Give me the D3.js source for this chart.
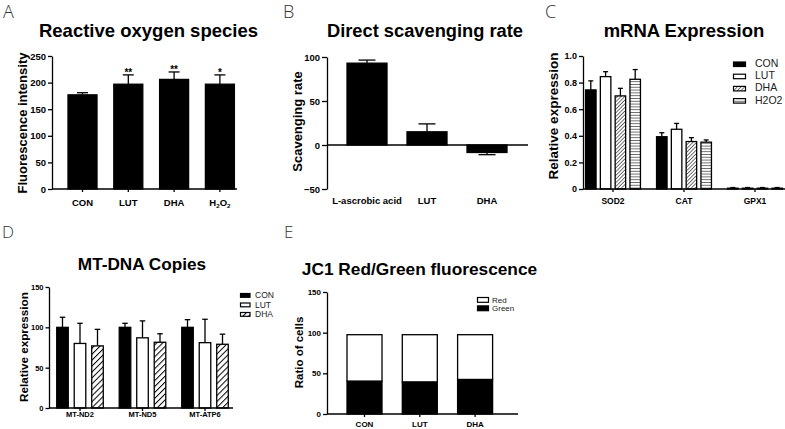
<!DOCTYPE html>
<html><head><meta charset="utf-8">
<script src="https://cdn.jsdelivr.net/npm/d3@7"></script>
<style>body{margin:0;background:#fff} svg{display:block;font-family:"Liberation Sans",Arial,Helvetica,sans-serif}</style>
</head><body><svg id="chart" width="785" height="429"></svg>
<script>
// ---------- DATA ----------
// A: Reactive oxygen species
const rosCategories = ["CON", "LUT", "DHA", "H2O2"];
const rosValues = [177, 197, 206, 197];
const rosErrTop = [181, 214.5, 220, 214.5];
const rosStars = ["", "**", "**", "*"];
const rosTicks = [0, 50, 100, 150, 200, 250];

// B: Direct scavenging rate
const scavCategories = ["L-ascrobic acid", "LUT", "DHA"];
const scavValues = [93, 15, -8.5];
const scavErrEnd = [96.5, 24, -11];
const scavTicks = [-50, 0, 50, 100];

// C: mRNA Expression
const mrnaGenes = ["SOD2", "CAT", "GPX1"];
const mrnaSeries = ["CON", "LUT", "DHA", "H2O2"];
const mrnaCON = [0.745, 0.393, 0.006];
const mrnaLUT = [0.845, 0.449, 0.006];
const mrnaDHA = [0.700, 0.357, 0.006];
const mrnaH2O2 = [0.825, 0.352, 0.006];
const mrnaCONerr = [0.813, 0.423, 0.011];
const mrnaLUTerr = [0.882, 0.493, 0.011];
const mrnaDHAerr = [0.757, 0.386, 0.011];
const mrnaH2O2err = [0.898, 0.369, 0.011];
const mrnaTicks = [0, 0.2, 0.4, 0.6, 0.8, 1.0];

// D: MT-DNA Copies
const mtGenes = ["MT-ND2", "MT-ND5", "MT-ATP6"];
const mtSeries = ["CON", "LUT", "DHA"];
const mtCON = [100, 100, 100];
const mtLUT = [80, 87, 81];
const mtDHA = [77, 81.5, 79];
const mtCONerr = [112.5, 105, 109.5];
const mtLUTerr = [105, 108, 110];
const mtDHAerr = [97.5, 92, 91.5];
const mtTicks = [0, 50, 100, 150];

// E: JC1 Red/Green fluorescence
const jcCategories = ["CON", "LUT", "DHA"];
const jcGreen = [40.5, 39.5, 42.5];
const jcRed = [57, 58, 55];
const jcLegend = ["Red", "Green"];
const jcTicks = [0, 50, 100, 150];

// ---------- DRAWING ----------
const svg = d3.select("#chart");
const defs = svg.append("defs");

function linePattern(id, size, rot, sw) {
  const p = defs.append("pattern").attr("id", id).attr("patternUnits", "userSpaceOnUse")
    .attr("width", size).attr("height", size).attr("patternTransform", `rotate(${rot})`);
  p.append("rect").attr("width", size).attr("height", size).attr("fill", "#fff");
  p.append("line").attr("x1", 0).attr("y1", 0).attr("x2", 0).attr("y2", size)
    .attr("stroke", "#000").attr("stroke-width", sw);
}
linePattern("hatchC", 2.6, 45, 1.1);
linePattern("stripeC", 2.8, 90, 1.1);
linePattern("hatchD", 4.2, 45, 2.0);

const fillC = {CON: "#000", LUT: "#fff", DHA: "url(#hatchC)", H2O2: "url(#stripeC)"};
const fillD = {CON: "#000", LUT: "#fff", DHA: "url(#hatchD)"};

function bandFromCenters(domain, firstCenter, step, barW) {
  const pi = 1 - barW / step;
  return d3.scaleBand().domain(domain)
    .range([firstCenter - step / 2, firstCenter - step / 2 + domain.length * step])
    .paddingInner(pi).paddingOuter(pi / 2);
}

function yAxis(x, y, ticks, fmt, fs, ts) {
  const g = svg.append("g").attr("transform", `translate(${x},0)`)
    .call(d3.axisLeft(y).tickValues(ticks).tickSize(ts || 4).tickSizeOuter(0).tickPadding(2).tickFormat(fmt));
  g.select(".domain").attr("stroke", "#000").attr("stroke-width", 1.3);
  g.selectAll(".tick line").attr("stroke", "#000").attr("stroke-width", 1.3);
  g.selectAll(".tick text").attr("fill", "#000").attr("font-weight", "bold")
    .attr("font-size", fs).attr("font-family", '"Liberation Sans",Arial,sans-serif');
  return g;
}

function xAxisLine(x0, x1, yb) {
  svg.append("line").attr("x1", x0).attr("x2", x1).attr("y1", yb).attr("y2", yb)
    .attr("stroke", "#000").attr("stroke-width", 1.3);
}
function xTicks(centers, yb, len) {
  centers.forEach(c => svg.append("line").attr("x1", c).attr("x2", c).attr("y1", yb).attr("y2", yb + len)
    .attr("stroke", "#000").attr("stroke-width", 1.3));
}
function xLabels(cats, centers, yb, fs) {
  cats.forEach((c, i) => {
    const t = svg.append("text").attr("x", centers[i]).attr("y", yb).attr("text-anchor", "middle")
      .attr("font-weight", "bold").attr("font-size", fs);
    if (c === "H2O2") {
      t.append("tspan").text("H");
      t.append("tspan").text("2").attr("font-size", fs * 0.65).attr("dy", 2);
      t.append("tspan").text("O").attr("dy", -2);
      t.append("tspan").text("2").attr("font-size", fs * 0.65).attr("dy", 2);
    } else t.text(c);
  });
}
function title(txt, x, y, fs) {
  svg.append("text").attr("x", x).attr("y", y).attr("text-anchor", "middle")
    .attr("font-weight", "bold").attr("font-size", fs).text(txt);
}
function yTitle(txt, x, y, fs) {
  svg.append("text").attr("transform", `translate(${x},${y}) rotate(-90)`).attr("text-anchor", "middle")
    .attr("font-weight", "bold").attr("font-size", fs).text(txt);
}
function letter(txt, x, y, fs) {
  svg.append("text").attr("x", x).attr("y", y).attr("font-size", fs).attr("fill", "#333")
    .attr("font-family", '"Open Sans","Liberation Sans",sans-serif').attr("font-weight", 300).text(txt);
}
function bar(x, w, y0, y1, fill) {
  svg.append("rect").attr("x", x).attr("width", w)
    .attr("y", Math.min(y0, y1)).attr("height", Math.abs(y1 - y0))
    .attr("fill", fill).attr("stroke", "#000").attr("stroke-width", 1.3);
}
function errBar(cx, yv, ye, capW) {
  svg.append("line").attr("x1", cx).attr("x2", cx).attr("y1", yv).attr("y2", ye)
    .attr("stroke", "#000").attr("stroke-width", 1.3);
  svg.append("line").attr("x1", cx - capW / 2).attr("x2", cx + capW / 2).attr("y1", ye).attr("y2", ye)
    .attr("stroke", "#000").attr("stroke-width", 1.3);
}

// ----- Panel A -----
{
  const y = d3.scaleLinear().domain([0, 250]).range([189, 56]);
  const x = bandFromCenters(rosCategories, 82.5, 45.8, 29);
  const centers = rosCategories.map(c => x(c) + x.bandwidth() / 2);
  rosCategories.forEach((c, i) => {
    errBar(centers[i], y(rosValues[i]), y(rosErrTop[i]), 11);
    bar(x(c), x.bandwidth(), y(0), y(rosValues[i]), "#000");
    if (rosStars[i]) svg.append("text").attr("x", centers[i]).attr("y", y(rosErrTop[i]) + 1)
      .attr("text-anchor", "middle").attr("font-weight", "bold").attr("font-size", 10).text(rosStars[i]);
  });
  xAxisLine(52, 237, y(0));
  xTicks(centers, y(0), 3);
  yAxis(52, y, rosTicks, d3.format("d"), 9.5);
  xLabels(rosCategories, centers, 205.5, 9.5);
  title("Reactive oxygen species", 148.5, 37, 18.5);
  yTitle("Fluorescence intensity", 26.5, 123, 13);
  letter("A", 3, 18, 18);
}

// ----- Panel B -----
{
  const y = d3.scaleLinear().domain([-50, 100]).range([189, 57]);
  const x = bandFromCenters(scavCategories, 367, 60, 40);
  const centers = scavCategories.map(c => x(c) + x.bandwidth() / 2);
  scavCategories.forEach((c, i) => {
    errBar(centers[i], y(scavValues[i]), y(scavErrEnd[i]), 17);
    bar(x(c), x.bandwidth(), y(0), y(scavValues[i]), "#000");
  });
  xAxisLine(327, 528, y(0));
  yAxis(327, y, scavTicks, d3.format("d"), 9.5, 5);
  xLabels(scavCategories, centers, 204, 9.5);
  title("Direct scavenging rate", 425, 37, 18.3);
  yTitle("Scavenging rate", 301.5, 121.5, 13);
  letter("B", 283, 18, 18);
}

// ----- Panel C -----
{
  const y = d3.scaleLinear().domain([0, 1]).range([189, 56]);
  const x = bandFromCenters(mrnaGenes, 613, 71, 59.2);
  const xs = d3.scaleBand().domain(mrnaSeries).range([0, 59.2]).paddingInner(0.29).paddingOuter(0.145);
  const vals = {CON: mrnaCON, LUT: mrnaLUT, DHA: mrnaDHA, H2O2: mrnaH2O2};
  const errs = {CON: mrnaCONerr, LUT: mrnaLUTerr, DHA: mrnaDHAerr, H2O2: mrnaH2O2err};
  const centers = mrnaGenes.map(g => x(g) + x.bandwidth() / 2);
  mrnaGenes.forEach((g, gi) => {
    mrnaSeries.forEach(s => {
      const bx = x(g) + xs(s);
      errBar(bx + xs.bandwidth() / 2, y(vals[s][gi]), y(errs[s][gi]), 5);
      bar(bx, xs.bandwidth(), y(0), y(vals[s][gi]), fillC[s]);
    });
  });
  xAxisLine(583, 785, y(0));
  xTicks(centers, y(0), 3);
  yAxis(583, y, mrnaTicks, d => d === 0 ? "0" : d3.format(".1f")(d), 9);
  xLabels(mrnaGenes, centers, 204, 8.5);
  title("mRNA Expression", 684, 37, 18.5);
  yTitle("Relative expression", 558, 116, 13.5);
  letter("C", 545, 18, 18);
  mrnaSeries.forEach((s, i) => {
    const by = 67 + i * 12.2;
    svg.append("rect").attr("x", 733.5).attr("y", by - 5).attr("width", 12).attr("height", 4.5)
      .attr("fill", fillC[s]).attr("stroke", "#000").attr("stroke-width", 1.2);
    svg.append("text").attr("x", 755).attr("y", by).attr("font-size", 10.5).attr("fill", "#222").text(s);
  });
}

// ----- Panel D -----
{
  const y = d3.scaleLinear().domain([0, 150]).range([408, 287]);
  const x = bandFromCenters(mtGenes, 80, 62.5, 52.5);
  const xs = d3.scaleBand().domain(mtSeries).range([0, 52.5]).paddingInner(0.34).paddingOuter(0.17);
  const vals = {CON: mtCON, LUT: mtLUT, DHA: mtDHA};
  const errs = {CON: mtCONerr, LUT: mtLUTerr, DHA: mtDHAerr};
  const centers = mtGenes.map(g => x(g) + x.bandwidth() / 2);
  mtGenes.forEach((g, gi) => {
    mtSeries.forEach(s => {
      const bx = x(g) + xs(s);
      errBar(bx + xs.bandwidth() / 2, y(vals[s][gi]), y(errs[s][gi]), 5.5);
      bar(bx, xs.bandwidth(), y(0), y(vals[s][gi]), fillD[s]);
    });
  });
  xAxisLine(49, 233, y(0));
  xTicks(centers, y(0), 3);
  yAxis(49, y, mtTicks, d3.format("d"), 7.5, 3.5);
  xLabels(mtGenes, centers, 416.5, 7.5);
  title("MT-DNA Copies", 142, 270, 17.2);
  yTitle("Relative expression", 27.5, 347, 11.7);
  letter("D", 2, 238, 17);
  mtSeries.forEach((s, i) => {
    const by = 298 + i * 9.5;
    svg.append("rect").attr("x", 240.5).attr("y", by - 4.5).attr("width", 9.5).attr("height", 3.8)
      .attr("fill", fillD[s]).attr("stroke", "#000").attr("stroke-width", 1.2);
    svg.append("text").attr("x", 255).attr("y", by).attr("font-size", 8.5).attr("fill", "#222").text(s);
  });
}

// ----- Panel E -----
{
  const y = d3.scaleLinear().domain([0, 150]).range([414, 292]);
  const x = bandFromCenters(jcCategories, 364.5, 55.3, 35);
  const centers = jcCategories.map(c => x(c) + x.bandwidth() / 2);
  const stack = d3.stack().keys(["green", "red"])(jcCategories.map((c, i) => ({green: jcGreen[i], red: jcRed[i]})));
  const fills = {green: "#000", red: "#fff"};
  stack.forEach(layer => layer.forEach((d, i) => {
    bar(x(jcCategories[i]), x.bandwidth(), y(d[0]), y(d[1]), fills[layer.key]);
  }));
  xAxisLine(327, 518, y(0));
  xTicks(centers, y(0), 3);
  yAxis(327, y, jcTicks, d3.format("d"), 8, 4);
  xLabels(jcCategories, centers, 426.5, 8);
  title("JC1 Red/Green fluorescence", 419.5, 275, 17.3);
  yTitle("Ratio of cells", 303, 352.5, 11.5);
  letter("E", 284, 238, 17);
  jcLegend.forEach((s, i) => {
    const by = 302.5 + i * 8.4;
    svg.append("rect").attr("x", 477.5).attr("y", by - 5).attr("width", 11).attr("height", 4.8)
      .attr("fill", s === "Red" ? "#fff" : "#000").attr("stroke", "#000").attr("stroke-width", 1.2);
    svg.append("text").attr("x", 492).attr("y", by).attr("font-size", 8).attr("fill", "#222").text(s);
  });
}
</script></body></html>
